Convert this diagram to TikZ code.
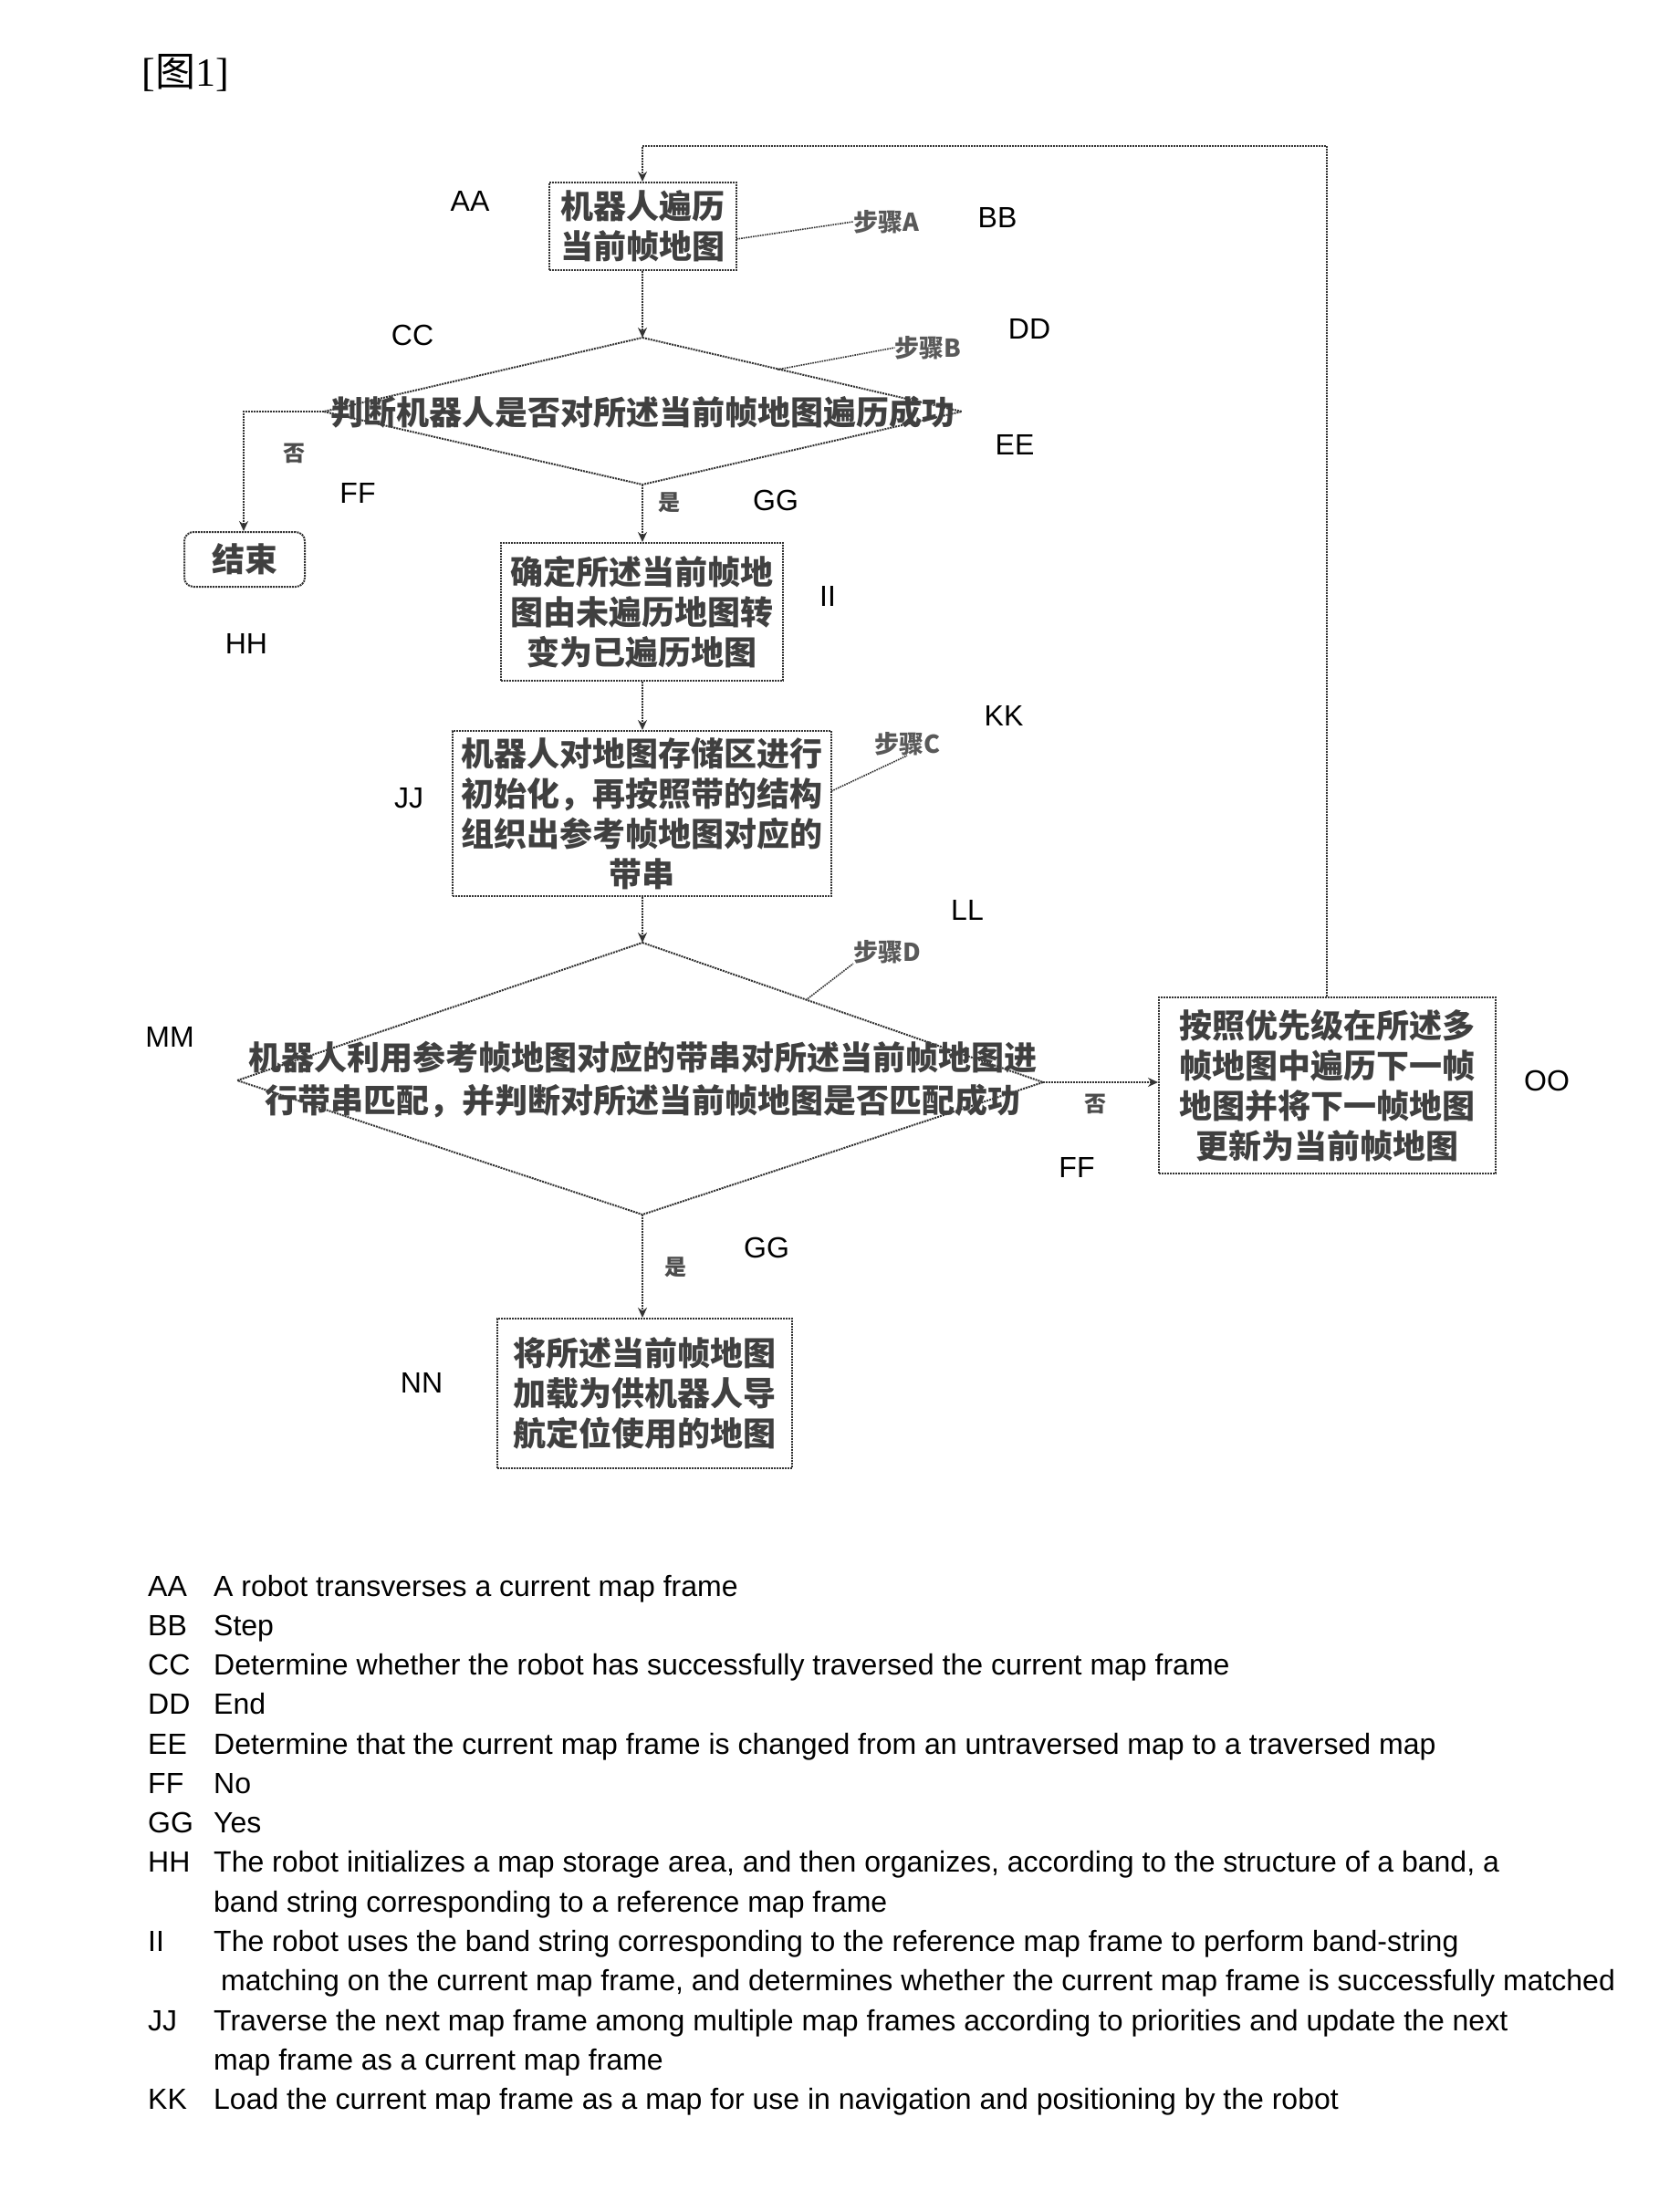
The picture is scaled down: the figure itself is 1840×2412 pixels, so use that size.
\documentclass[tikz,border=0pt]{standalone}
\usepackage{fontspec}
\setmainfont{Liberation Sans}
\newfontfamily\cjk{Noto Sans CJK SC}
\newfontfamily\serifrm{Liberation Serif}
\usetikzlibrary{arrows.meta}
\begin{document}
\begin{tikzpicture}[x=1pt,y=-1pt,
  flow/.style={draw=black!80, densely dotted, line width=2pt},
  arr/.style={flow, -{Stealth[length=11pt,width=10pt]}},
  box/.style={flow, rectangle, inner sep=0pt, align=center,
    font=\cjk\bfseries\fontsize{36}{44}\selectfont, text=black!75},
  dtext/.style={inner sep=0pt, align=center, font=\cjk\bfseries\fontsize{36}{47}\selectfont, text=black!75},
  steplbl/.style={inner sep=0pt, font=\cjk\bfseries\fontsize{27}{30}\selectfont, text=black!65},
  yn/.style={inner sep=0pt, font=\cjk\bfseries\fontsize{24}{26}\selectfont, text=black!70},
  code/.style={inner sep=0pt, font=\fontsize{32}{38}\selectfont},
  leg/.style={inner sep=0pt, anchor=base west, font=\fontsize{32}{38}\selectfont}
]
\useasboundingbox[fill=white] (0,0) rectangle (1840,2412);

% title
\node[inner sep=0pt] (title) at (203,80) {\fontsize{44}{48}\selectfont\serifrm[\cjk 图\serifrm 1]};

% boxes
\node[box, minimum width=205pt, minimum height=96pt] (A) at (704.5,248) {机器人遍历\\当前帧地图};
\node[box, minimum width=309pt, minimum height=151pt] (II) at (703.5,670.5) {确定所述当前帧地\\图由未遍历地图转\\变为已遍历地图};
\node[box, minimum width=415pt, minimum height=181pt] (JJ) at (703.5,891.5) {机器人对地图存储区进行\\初始化，再按照带的结构\\组织出参考帧地图对应的\\带串};
\node[box, minimum width=369pt, minimum height=193pt] (OO) at (1454.5,1189.5) {按照优先级在所述多\\帧地图中遍历下一帧\\地图并将下一帧地图\\更新为当前帧地图};
\node[box, minimum width=323pt, minimum height=164pt] (NN) at (706,1527) {将所述当前帧地图\\加载为供机器人导\\航定位使用的地图};
\node[box, rounded corners=10pt, minimum width=132pt, minimum height=60pt] (END) at (268,613) {结束};

% diamond CC
\coordinate (ct) at (704,370);
\coordinate (cr) at (1054,451);
\coordinate (cb) at (704,531);
\coordinate (cl) at (355,451);
\draw[flow] (ct) -- (cr) -- (cb) -- (cl) -- cycle;
\node[dtext] (CCt) at (704,452) {判断机器人是否对所述当前帧地图遍历成功};

% diamond MM
\coordinate (mt) at (704,1033);
\coordinate (mr) at (1143,1186);
\coordinate (mb) at (704,1331);
\coordinate (ml) at (260,1184);
\draw[flow] (mt) -- (mr) -- (mb) -- (ml) -- cycle;
\node[dtext] (MMt) at (704,1183) {机器人利用参考帧地图对应的带串对所述当前帧地图进\\行带串匹配，并判断对所述当前帧地图是否匹配成功};

% connectors
\coordinate (lp1) at (1454,160);
\coordinate (lp2) at (704,160);
\draw[arr] (OO.north -| lp1) -- (lp1) -- (lp2) -- (A.north -| lp2);
\draw[arr] (A.south -| ct) -- (ct);
\coordinate (nb) at (267,451);
\draw[arr] (cl) -- (nb) -- (END.north -| nb);
\draw[arr] (cb) -- (II.north -| cb);
\draw[arr] (II.south -| ct) -- (JJ.north -| ct);
\draw[arr] (JJ.south -| mt) -- (mt);
\draw[arr] (mr) -- (OO.west |- mr);
\draw[arr] (mb) -- (NN.north -| mb);

% step leaders
\node[steplbl] (sA) at (971,243) {步骤A};
\node[steplbl] (sB) at (1017,381) {步骤B};
\node[steplbl] (sC) at (994,815) {步骤C};
\node[steplbl] (sD) at (972,1043) {步骤D};
\coordinate (aA) at (807,262);
\coordinate (aB) at (852,405);
\coordinate (aC) at (911,867);
\coordinate (aD) at (883,1096);
\draw[flow, line width=1.6pt] (aA) -- (sA.west);
\draw[flow, line width=1.6pt] (aB) -- (sB.west);
\draw[flow, line width=1.6pt] (aC) -- (sC.south);
\draw[flow, line width=1.6pt] (aD) -- (sD.south west);

% yes / no
\node[yn] (n1) at (322,497) {否};
\node[yn] (y1) at (733,551) {是};
\node[yn] (n2) at (1200,1210) {否};
\node[yn] (y2) at (740,1389) {是};

% code letters
\node[code] (lAA) at (515,220) {AA};
\node[code] (lBB) at (1093,238) {BB};
\node[code] (lCC) at (452,367) {CC};
\node[code] (lDD) at (1128,360) {DD};
\node[code] (lEE) at (1112,487) {EE};
\node[code] (lFF1) at (392,540) {FF};
\node[code] (lGG1) at (850,548) {GG};
\node[code] (lHH) at (270,705) {HH};
\node[code] (lII) at (907,653) {II};
\node[code] (lJJ) at (448,875) {JJ};
\node[code] (lKK) at (1100,784) {KK};
\node[code] (lLL) at (1060,997) {LL};
\node[code] (lMM) at (186,1136) {MM};
\node[code] (lFF2) at (1180,1279) {FF};
\node[code] (lGG2) at (840,1367) {GG};
\node[code] (lNN) at (462,1515) {NN};
\node[code] (lOO) at (1695,1184) {OO};

% legend
\node[leg] (k1) at (162,1749) {AA};
\node[leg] (t1) at (234,1749) {A robot transverses a current map frame};
\node[leg] (k2) at (162,1792) {BB};
\node[leg] (t2) at (234,1792) {Step};
\node[leg] (k3) at (162,1835) {CC};
\node[leg] (t3) at (234,1835) {Determine whether the robot has successfully traversed the current map frame};
\node[leg] (k4) at (162,1878) {DD};
\node[leg] (t4) at (234,1878) {End};
\node[leg] (k5) at (162,1922) {EE};
\node[leg] (t5) at (234,1922) {Determine that the current map frame is changed from an untraversed map to a traversed map};
\node[leg] (k6) at (162,1965) {FF};
\node[leg] (t6) at (234,1965) {No};
\node[leg] (k7) at (162,2008) {GG};
\node[leg] (t7) at (234,2008) {Yes};
\node[leg] (k8) at (162,2051) {HH};
\node[leg] (t8) at (234,2051) {The robot initializes a map storage area, and then organizes, according to the structure of a band, a};
\node[leg] (t8b) at (234,2095) {band string corresponding to a reference map frame};
\node[leg] (k9) at (162,2138) {II};
\node[leg] (t9) at (234,2138) {The robot uses the band string corresponding to the reference map frame to perform band-string};
\node[leg] (t9b) at (242,2181) {matching on the current map frame, and determines whether the current map frame is successfully matched};
\node[leg] (k10) at (162,2225) {JJ};
\node[leg] (t10) at (234,2225) {Traverse the next map frame among multiple map frames according to priorities and update the next};
\node[leg] (t10b) at (234,2268) {map frame as a current map frame};
\node[leg] (k11) at (162,2311) {KK};
\node[leg] (t11) at (234,2311) {Load the current map frame as a map for use in navigation and positioning by the robot};
\end{tikzpicture}
\end{document}
